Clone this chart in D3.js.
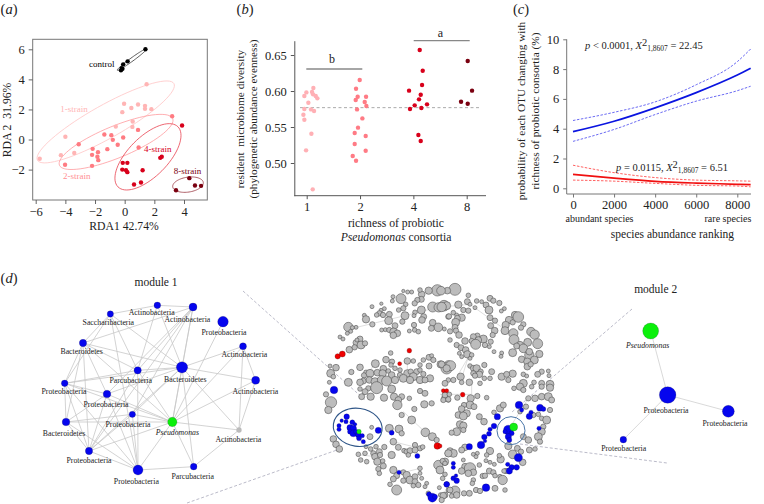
<!DOCTYPE html>
<html><head><meta charset="utf-8">
<script src="https://cdn.jsdelivr.net/npm/d3@7/dist/d3.min.js"></script>
<style>html,body{margin:0;padding:0;background:#fff}svg{display:block}text{font-family:"Liberation Serif",serif;fill:#222}</style>
</head><body><svg id="c" width="764" height="504"></svg>
<script>
// ---- panel a: RDA scores [RDA1, RDA2]
const rdaControl=[[1.4,6.0],[0.2,5.2],[-0.1,5.0],[-0.2,4.75],[-0.25,4.6],[-0.15,4.7]];
const rda1=[[1.48,3.68],[-0.04,2.38],[0.45,2.1],[0.9,2.33],[1.37,2.24],[1.37,2.04],[1.8,2.02],[-0.16,1.82],[0.54,1.2],[0.52,0.84],[-0.6,0.86],[-4.0,0.18],[-4.3,-1.04],[-3.4,-0.9],[-5.73,-1.28]];
const rda2=[[3.2,1.55],[0.9,0.64],[-0.1,0.13],[-1.37,0.33],[-0.9,0.29],[-0.8,-0.02],[-3.1,-0.31],[-2.16,-0.62],[-2.2,-1.02],[-1.8,-0.84],[-1.84,-1.15],[-1.78,-1.37],[-1.17,-0.64],[-0.47,-0.35],[-2.2,-1.75],[-4.02,-1.68],[0.94,-0.53]];
const rda4=[[3.87,0.93],[2.5,-1.15],[2.4,-1.22],[-0.13,-1.55],[0.18,-1.55],[-0.16,-2.0],[0.09,-2.04],[0.18,-2.17],[1.21,-2.04],[1.1,-2.86],[0.63,-2.99]];
const rda8=[[4.36,-2.57],[3.46,-3.37],[4.74,-3.06],[5.15,-3.08]];
// ellipses: centre x,y, major half-vector, minor half-vector (RDA units)
const rdaEllipses=[
 {k:"c",e:[0.49,5.32,0.99,0.71,0.07,-0.09]},
 {k:"1",e:[-1.28,1.17,4.6,2.55,0.55,-0.96]},
 {k:"2",e:[-0.58,-0.16,3.82,1.55,0.4,-0.98]},
 {k:"4",e:[1.57,-1.15,2.02,2.0,0.94,-0.93]},
 {k:"8",e:[4.27,-3.0,1.03,0.15,0.07,-0.49]}];
const rdaTicksX=[-6,-4,-2,0,2,4], rdaTicksY=[-2,0,2,4,6];
// ---- panel b: [category offset, evenness]
const bCats=["1","2","4","8"];
const evenness1=[[.125,.6042],[-.006,.5981],[.1,.5986],[.119,.5954],[.169,.5931],[.2,.5898],[-.044,.5931],[.031,.5838],[.081,.5745],[.138,.5722],[-.044,.575],[-.062,.5671],[-.044,.5602],[.088,.5407],[-.012,.5176],[.113,.4634]];
const evenness2=[[-.006,.6153],[-.075,.6032],[-.044,.5921],[-.081,.5875],[.113,.5921],[.088,.5847],[.119,.5792],[-.056,.5745],[.044,.562],[-.038,.5491],[-.1,.5417],[.106,.5375],[-.1,.5264],[.106,.5171],[-.137,.5097],[-.075,.5032]];
const evenness4=[[.119,.6569],[.175,.6282],[.163,.6083],[-.081,.6005],[.138,.5949],[.106,.5884],[.256,.5815],[.025,.5801],[-.063,.575],[.15,.5764],[.094,.5389],[.138,.5306]];
const evenness8=[[.019,.6417],[.1,.6005],[-.106,.5852],[.019,.5824]];
const bTicks=[.5,.55,.6,.65];
const bMean=0.5769;
// ---- panel c
const cX=[0,2000,4000,6000,8000,8650];
const blueMean=[3.8,4.5,5.4,6.42,7.6,8.05], blueHi=[4.55,5.1,5.8,6.95,8.5,9.35], blueLo=[3.15,3.95,4.95,5.85,6.55,6.85];
const redMean=[.93,.68,.47,.35,.27,.24], redHi=[1.55,1.05,.72,.55,.5,.48], redLo=[.55,.48,.33,.2,.15,.1];
const cTicksX=[0,2000,4000,6000,8000], cTicksY=[0,2,4,6,8,10];
// ---- panel d: module 1 [x,y,r,label,labelx,labely]
const module1=[[472,166,10,"Actinobacteria",455,187],[579,171,12,"Actinobacteria",562,208],[331,192,9.5,"Saccharibacteria",325,218],[669,215,16,"Proteobacteria",672,247],[249,279,11,"Bacteroidetes",245,304],[729,289,10.5,"Actinobacteria",733,314],[413,361,11,"Parcubacteria",392,390],[546,352,17,"Bacteroidetes",556,387],[767,391,12,"Actinobacteria",766,424],[194,400,10,"Proteobacteria",192,425],[321,432,11.5,"Proteobacteria",318,463],[397,493,9.5,"Proteobacteria",384,524],[198,516,11.5,"Bacteroidetes",192,550],[517,516,14,"Pseudomonas",532,546],[717,540,8,"Actinobacteria",715,567],[267,603,11,"Proteobacteria",267,632],[414,660,15,"Proteobacteria",409,693],[581,650,10,"Parcubacteria",578,679]];
const module1Links=[[0,1],[0,2],[0,6],[0,7],[1,4],[1,6],[1,7],[1,13],[1,10],[2,4],[2,6],[2,7],[2,9],[3,13],[4,9],[4,12],[4,6],[4,10],[4,7],[4,13],[4,15],[5,7],[5,8],[5,13],[5,14],[6,7],[6,9],[6,13],[6,16],[6,15],[7,8],[7,9],[7,10],[7,11],[7,13],[7,14],[7,15],[7,17],[8,13],[8,14],[9,10],[9,12],[9,13],[9,15],[9,16],[10,12],[10,13],[10,16],[10,15],[11,12],[11,16],[11,13],[11,15],[12,13],[12,15],[12,16],[13,14],[13,16],[13,17],[13,15],[14,17],[16,17],[15,16],[1,15],[1,11],[2,16]];
const module2=[[272,183,24,"Pseudomonas",263,225],[323,375,25,"Proteobacteria",318,421],[505,424,18,"Proteobacteria",495,461],[190,509,10,"Proteobacteria",191,535]];
const module2Links=[[0,1],[1,2],[1,3]];
// whole network, one list per quadrant of the layout
const netNW=[[352,76,15],[326,77,9],[305,88,8],[300,75,5],[275,81,4],[263,81,4],[250,78,3],[304,103,7],[292,105,6],[284,115,6],[243,101,13],[219,95,4],[217,108,4],[257,118,5],[250,130,6],[236,135,5],[304,135,10],[338,126,13],[356,127,12],[372,122,14],[385,155,6],[184,116,3],[156,125,4],[193,131,4],[183,136,4],[133,151,4],[178,145,6],[170,150,5],[189,150,6],[138,163,9],[208,148,7],[206,167,10],[255,152,10],[285,142,5],[282,152,4],[247,170,6],[311,155,7],[306,165,8],[225,182,7],[157,178,6],[85,186,12],[108,187,4],[97,188,4],[338,173,8],[355,187,11],[334,190,7],[373,192,4],[282,180,6],[284,195,5],[295,200,5],[268,198,4],[185,195,4],[196,194,4],[208,195,6],[221,201,10],[232,205,8],[220,211,8],[92,199,4],[82,205,4],[60,216,4],[69,222,4],[120,222,7],[108,233,7],[123,240,10],[135,235,6],[111,225,4],[88,254,8],[104,247,6],[212,264,5],[198,284,8],[216,290,6],[213,300,5],[262,288,8],[280,288,5],[300,300,5],[327,277,7],[335,272,4],[340,285,6],[310,285,5],[327,303,7],[362,298,9],[385,300,11],[380,310,15],[166,296,10],[120,307,8],[94,321,6],[48,308,8],[30,303,4],[32,325,10],[40,335,5],[28,352,4],[138,322,5],[132,331,6],[150,325,10],[172,323,8],[190,311,8],[188,325,9],[205,318,5],[225,310,5],[240,315,5],[262,325,9],[272,320,6],[290,320,7],[300,315,5],[215,330,8],[240,330,6],[280,335,10],[310,327,6],[330,340,9],[130,348,7],[148,345,8],[165,350,10],[185,345,11],[200,348,13],[225,345,9],[250,340,10],[270,345,9],[300,345,9],[315,345,7],[85,352,10],[120,352,8],[385,345,5]];
const netNE=[[45,73,16],[22,77,8],[3,77,11],[85,91,5],[150,100,7],[160,107,6],[178,114,6],[110,108,5],[125,110,4],[82,110,7],[90,118,4],[138,120,7],[147,135,10],[105,128,4],[55,119,9],[20,122,10],[5,126,12],[193,131,4],[184,138,4],[70,135,6],[85,137,6],[40,143,5],[50,150,4],[27,154,6],[65,158,9],[52,160,7],[47,172,10],[150,158,7],[165,167,6],[225,150,9],[235,156,14],[207,165,9],[197,180,9],[218,172,6],[250,178,6],[243,188,6],[152,182,7],[164,197,8],[158,210,6],[45,187,7],[30,199,6],[48,197,6],[195,197,10],[273,200,11],[284,209,12],[57,210,8],[220,205,12],[222,224,13],[112,212,6],[100,215,7],[130,222,10],[115,225,8],[30,225,5],[152,230,6],[95,228,6],[107,238,13],[135,240,6],[148,245,4],[75,228,8],[50,240,6],[63,248,7],[77,255,8],[240,240,9],[263,232,10],[293,236,13],[250,250,11],[230,243,7],[268,270,12],[298,267,9],[218,263,10],[283,285,10],[245,283,8],[262,290,9],[268,260,8],[262,305,8],[272,298,6],[162,260,4],[185,264,4],[183,274,4],[58,265,4],[65,275,4],[82,268,9],[95,270,5],[90,280,4],[5,298,8],[32,302,13],[20,310,9],[90,303,5],[133,300,6],[100,310,7],[110,310,9],[122,320,6],[100,325,6],[118,328,8],[105,332,6],[155,320,7],[133,340,5],[150,340,5],[62,335,9],[185,335,9],[218,326,9],[200,328,7],[250,328,5],[260,333,4],[305,320,6],[293,328,7],[325,318,4],[327,332,4],[40,345,6],[15,355,7],[65,352,5],[88,352,8],[120,355,5],[205,345,6],[250,355,10],[282,352,5],[305,355,7],[330,358,10]];
const netSW=[[33,52,15],[18,28,6],[25,75,9],[120,12,5],[145,10,6],[170,8,16],[135,20,7],[125,35,7],[152,35,9],[192,38,9],[215,12,10],[222,35,9],[245,35,7],[235,45,8],[232,60,12],[268,40,5],[283,72,6],[245,90,6],[275,105,10],[313,58,9],[335,55,6],[300,18,6],[315,25,7],[372,38,5],[385,45,5],[316,142,11],[337,155,10],[350,165,6],[208,130,10],[237,132,10],[245,145,6],[150,155,7],[155,127,4],[40,162,8],[48,178,8],[58,192,8],[220,170,8],[235,187,7],[193,186,6],[168,185,5],[152,192,5],[178,200,7],[160,205,6],[165,215,8],[180,210,6],[115,208,5],[135,205,5],[138,185,4],[122,225,5],[140,230,5],[172,230,9],[188,228,5],[190,243,7],[175,252,6],[178,265,5],[215,210,9],[220,255,9],[230,272,7],[250,262,6],[260,270,9],[270,285,10],[285,275,7],[285,290,7],[295,300,6],[280,302,5],[250,287,6],[220,282,7],[210,298,5],[230,315,13],[300,250,5],[300,265,4],[305,280,4],[320,295,4],[315,305,4],[355,240,12],[360,255,10],[375,230,9],[385,205,8],[358,308,4],[325,325,5],[375,330,7],[385,315,5],[362,330,5],[252,197,5],[260,200,6],[270,197,7],[285,180,6],[300,190,6],[285,195,7],[308,186,5],[265,210,5]];
const netSE=[[240,5,9],[222,10,5],[250,15,6],[275,5,5],[330,8,9],[305,5,6],[15,30,7],[28,28,5],[10,45,6],[25,43,6],[52,38,6],[92,40,9],[112,33,6],[140,38,5],[90,60,10],[72,60,6],[102,65,7],[65,72,8],[80,85,9],[55,90,8],[70,93,10],[118,95,7],[132,110,8],[60,118,9],[70,122,9],[50,140,10],[35,143,6],[70,135,6],[180,70,9],[190,60,7],[162,82,5],[265,40,6],[285,40,8],[305,35,8],[325,35,10],[335,45,7],[258,65,6],[240,80,5],[280,90,6],[295,88,5],[305,100,5],[320,105,10],[330,75,6],[310,125,6],[305,140,9],[295,155,10],[300,170,6],[250,155,7],[265,165,8],[205,183,9],[232,190,7],[268,195,7],[285,192,5],[243,200,6],[218,208,11],[150,198,9],[140,210,5],[75,187,8],[65,195,7],[30,198,8],[40,205,10],[25,205,9],[112,205,4],[100,208,4],[108,215,4],[138,227,4],[150,232,4],[163,238,4],[8,228,6],[15,235,5],[182,223,9],[178,212,5],[248,232,8],[70,225,4],[75,245,8],[90,250,15],[100,262,8],[65,258,8],[85,265,8],[118,240,5],[148,258,7],[160,262,6],[165,272,5],[198,258,6],[192,258,5],[180,275,5],[188,285,12],[128,273,6],[135,272,6],[100,285,5],[97,295,5],[15,268,5],[8,280,5],[45,318,13],[30,315,7],[50,330,8],[35,333,5],[72,325,6],[88,325,7],[10,332,8],[5,345,6],[108,315,6],[120,318,6],[165,310,7],[195,315,5]];
const netBlueSW=[[42,15,10],[80,95,7],[65,107,4],[78,110,5],[57,122,5],[57,133,5],[97,112,6],[105,118,4],[90,128,8],[100,130,8],[90,140,6],[100,145,9],[108,140,6],[115,150,7],[127,152,5],[117,160,6],[130,170,5],[175,136,8],[215,143,6],[292,213,6],[237,262,5],[327,328,6],[337,338,12],[345,335,6],[380,298,7]];
const netBlueSE=[[237,60,10],[245,75,5],[300,68,9],[310,72,6],[273,82,5],[268,94,8],[172,95,8],[162,123,7],[150,133,5],[147,146,6],[133,156,7],[123,180,10],[135,168,4],[88,185,8],[205,135,13],[195,140,5],[215,145,6],[205,155,8],[208,165,6],[297,130,5],[235,218,11],[203,238,5],[215,247,7],[230,247,7],[208,258,8],[40,235,5],[40,247,5],[40,280,6],[50,287,7],[48,272,4],[20,298,7],[138,308,10]];
const netRedNW=[[53,274,7],[67,267,8],[268,257,6],[239,296,5]];
const netRedSW=[[352,183,9]];
const netRedSE=[[68,29,6],[10,17,5],[20,17,5],[0,183,5]];
const netGreenSW=[[117,140,6]], netGreenSE=[[221,126,11]];
const netLinksNW=[[110,187,255,152],[255,152,340,130],[166,296,120,352],[262,288,262,330],[340,285,380,300]];
const netLinksNE=[[90,118,190,190],[95,260,45,345],[90,260,65,340],[5,126,90,118]];
const netLinksSW=[[250,80,316,142],[120,210,170,215],[220,170,300,190],[240,265,300,250]];
const netLinksSE=[[0,28,95,28],[95,0,95,28],[205,135,265,40]];

const svg=d3.select("#c");
const SER='"Liberation Serif",serif';
function txt(g,x,y,s,o={}){const t=g.append("text").attr("x",x).attr("y",y).attr("dy",".35em").attr("text-anchor",o.a||"middle").attr("font-size",o.fs||12).text(s);
 if(o.c)t.style("fill",o.c); if(o.it)t.attr("font-style","italic"); if(o.rot)t.attr("transform",`rotate(-90 ${x} ${y})`); return t;}
function panelLabel(x,y,l){const t=svg.append("text").attr("x",x).attr("y",y).attr("dy",".35em").attr("font-size",14.5).attr("text-anchor","middle");
 t.append("tspan").text("(");t.append("tspan").attr("font-style","italic").text(l);t.append("tspan").text(")");}
panelLabel(9,9,"a");panelLabel(245,9,"b");panelLabel(521,9,"c");panelLabel(9,278,"d");
function styleAxis(g,fs){g.selectAll("path,line").attr("stroke","#555").attr("stroke-width",.9);g.selectAll("text").attr("font-size",fs).attr("font-family",SER).style("fill","#222");g.attr("font-family",SER);}
const minus=d=>d3.format("d")(d).replace("-","\u2212");

// ---- a
{const x=d3.scaleLinear().domain([-6,4]).range([35.7,184]);
 const y=d3.scaleLinear().domain([-2,6]).range([169.6,49.3]);
 const g=svg.append("g");
 g.append("rect").attr("x",32.7).attr("y",39.3).attr("width",174.6).attr("height",160.7).attr("fill","none").attr("stroke","#777").attr("stroke-width",1);
 g.append("g").attr("transform","translate(0,200)").call(d3.axisBottom(x).tickValues(rdaTicksX).tickFormat(minus).tickSize(4).tickPadding(3)).call(a=>{a.select("path").remove();styleAxis(a,12.5)});
 g.append("g").attr("transform","translate(32.7,0)").call(d3.axisLeft(y).tickValues(rdaTicksY).tickFormat(minus).tickSize(4).tickPadding(4)).call(a=>{a.select("path").remove();styleAxis(a,12.5)});
 txt(g,124,226,"RDA1 42.74%",{fs:11.7});
 txt(g,6.5,120,"RDA 2  31.96%",{fs:11.7,rot:1}).style("white-space","pre");
 const col={c:"#000","1":"#ffb5b5","2":"#ff7b82","4":"#d8001b","8":"#7a0010"};
 const ecol={c:"#333","1":"#ffc4c4","2":"#ff9a9e","4":"#e8414f","8":"#9a3a44"};
 const line=d3.line().x(d=>x(d[0])).y(d=>y(d[1])).curve(d3.curveLinearClosed);
 rdaEllipses.forEach(({k,e})=>{const pts=d3.range(0,72).map(i=>{const a=i/72*2*Math.PI,c=Math.cos(a),s=Math.sin(a);return [e[0]+e[2]*c+e[4]*s,e[1]+e[3]*c+e[5]*s];});
  g.append("path").attr("d",line(pts)).attr("fill","none").attr("stroke",ecol[k]).attr("stroke-width",.8);});
 [[rda1,"1"],[rda2,"2"],[rda4,"4"],[rda8,"8"],[rdaControl,"c"]].forEach(([arr,k])=>{g.append("g").selectAll("circle").data(arr).join("circle").attr("cx",d=>x(d[0])).attr("cy",d=>y(d[1])).attr("r",2.2).attr("fill",col[k]);});
 txt(g,101.7,64,"control",{fs:9,c:"#000"});txt(g,74,109,"1-strain",{fs:9,c:"#ffb5b5"});txt(g,76.7,175.5,"2-strain",{fs:9,c:"#ff8f93"});txt(g,157.7,149,"4-strain",{fs:9,c:"#d8001b"});txt(g,187.5,171,"8-strain",{fs:9,c:"#7a0010"});
}
// ---- b
{const xi=d3.scaleLinear().domain([0,3]).range([306.7,466.7]);
 const xb=d3.scalePoint().domain(bCats).range([306.7,466.7]);
 const y=d3.scaleLinear().domain([.4546,.6699]).range([195.7,40.7]);
 const g=svg.append("g");
 g.append("g").attr("transform","translate(0,195.7)").call(d3.axisBottom(xb).tickSize(3.5).tickPadding(3).tickSizeOuter(0)).call(a=>{a.select("path").attr("d","M294.3,0H486");styleAxis(a,12.5);a.selectAll("path,line").attr("stroke-width",1)});
 g.append("g").attr("transform","translate(294.3,0)").call(d3.axisLeft(y).tickValues(bTicks).tickFormat(d3.format(".2f")).tickSize(3.5).tickPadding(4).tickSizeOuter(0)).call(a=>{styleAxis(a,12.5);a.selectAll("path,line").attr("stroke-width",1)});
 g.append("line").attr("x1",300).attr("x2",480).attr("y1",y(bMean)).attr("y2",y(bMean)).attr("stroke","#aaa").attr("stroke-width",1).attr("stroke-dasharray","3 2.5");
 [[evenness1,0,"#ffb0b5"],[evenness2,1,"#ff7b85"],[evenness4,2,"#d8001b"],[evenness8,3,"#7a0010"]].forEach(([arr,i,c])=>{g.append("g").selectAll("circle").data(arr).join("circle").attr("cx",d=>xi(i+d[0])).attr("cy",d=>y(d[1])).attr("r",2.2).attr("fill",c);});
 g.append("line").attr("x1",306.3).attr("x2",362.3).attr("y1",69).attr("y2",69).attr("stroke","#888").attr("stroke-width",1.3);
 g.append("line").attr("x1",413.7).attr("x2",469.7).attr("y1",40.7).attr("y2",40.7).attr("stroke","#888").attr("stroke-width",1.3);
 txt(g,332,58.5,"b",{fs:12});txt(g,440.5,33,"a",{fs:12});
 txt(g,240,119,"resident  microbiome diversity",{fs:11.3,rot:1}).style("white-space","pre");
 txt(g,253.5,119,"(phylogenetic abundance evenness)",{fs:11.2,rot:1});
 txt(g,396,222.5,"richness of probiotic",{fs:11.7});
 const t=g.append("text").attr("x",396).attr("y",237).attr("dy",".35em").attr("text-anchor","middle").attr("font-size",11.7);
 t.append("tspan").attr("font-style","italic").text("Pseudomonas");t.append("tspan").text(" consortia");
}
// ---- c
{const x=d3.scaleLinear().domain([0,8000]).range([573,737.3]);
 const y=d3.scaleLinear().domain([0,10]).range([188.3,39.3]);
 const g=svg.append("g");
 g.append("g").attr("transform","translate(0,194)").call(d3.axisBottom(x).tickValues(cTicksX).tickSize(3.5).tickPadding(3).tickFormat(d3.format("d")).tickSizeOuter(0)).call(a=>{a.select("path").attr("d","M566.7,0H751");styleAxis(a,12.5);a.selectAll("path,line").attr("stroke-width",1).attr("stroke","#777")});
 g.append("g").attr("transform","translate(566.7,0)").call(d3.axisLeft(y).tickValues(cTicksY).tickSize(3.5).tickPadding(4).tickSizeOuter(0)).call(a=>{a.select("path").attr("d","M0,39.3V194");styleAxis(a,12.5);a.selectAll("path,line").attr("stroke-width",1).attr("stroke","#777")});
 const line=d3.line().x((d,i)=>x(cX[i])).y(d=>y(d)).curve(d3.curveMonotoneX);
 [[blueMean,"#0a14e0",1.7,null],[blueHi,"#5a5af0",.9,"2.5 1.5"],[blueLo,"#5a5af0",.9,"2.5 1.5"],[redMean,"#f01010",1.7,null],[redHi,"#ff5050",.9,"2.5 1.5"],[redLo,"#ff5050",.9,"2.5 1.5"]].forEach(([s,c,w,da])=>{
  g.append("path").attr("d",line(s)).attr("fill","none").attr("stroke",c).attr("stroke-width",w).attr("stroke-dasharray",da);});
 function stat(xp,yp,lead,val){const t=g.append("text").attr("x",xp).attr("y",yp).attr("dy",".35em").attr("font-size",10.5);
  t.append("tspan").attr("font-style","italic").text("p");t.append("tspan").text(lead);t.append("tspan").attr("font-style","italic").text("X");
  t.append("tspan").attr("dy",-3).text("2");t.append("tspan").attr("dy",5).attr("font-size",7.5).text("1,8607");t.append("tspan").attr("dy",-2).text(" = "+val);}
 stat(585,45.5," < 0.0001, ","22.45");stat(616,167.5," = 0.0115, ","6.51");
 txt(g,599.5,218,"abundant species",{fs:10});txt(g,728,218,"rare species",{fs:10});
 txt(g,672.5,234,"species abundance ranking",{fs:11.5});
 txt(g,521.5,111,"probability of each OTU changing with",{fs:11.3,rot:1});
 txt(g,535,111,"richness of probiotic consortia (%)",{fs:11.3,rot:1});
}
// ---- d
const dashes=[[243,291,365,400],[187,503,337,450],[632,309,512,412],[520,444,667,463]];
svg.append("g").selectAll("line").data(dashes).join("line").attr("x1",d=>d[0]).attr("y1",d=>d[1]).attr("x2",d=>d[2]).attr("y2",d=>d[3]).attr("stroke","#aab").attr("stroke-width",.8).attr("stroke-dasharray","3 2");
function network(nodes,links,ox,oy,greenIdx,grayIdx,lw){
 const x=d3.scaleLinear().domain([0,300]).range([ox,ox+100]), y=d3.scaleLinear().domain([0,300]).range([oy,oy+100]), k=d3.scaleLinear().domain([0,3]).range([0,1]);
 const g=svg.append("g");
 g.append("g").selectAll("line").data(links).join("line").attr("x1",d=>x(nodes[d[0]][0])).attr("y1",d=>y(nodes[d[0]][1])).attr("x2",d=>x(nodes[d[1]][0])).attr("y2",d=>y(nodes[d[1]][1])).attr("stroke","#c8c8c8").attr("stroke-width",lw);
 g.append("g").selectAll("circle").data(nodes).join("circle").attr("cx",d=>x(d[0])).attr("cy",d=>y(d[1])).attr("r",d=>k(d[2])).attr("fill",(d,i)=>i===greenIdx?"#0bf00b":i===grayIdx?"#bbb":"#0505ee").attr("stroke",(d,i)=>i===grayIdx?"none":"#223").attr("stroke-width",.2);
 nodes.forEach((d,i)=>txt(g,x(d[4]),y(d[5]),d[3],{fs:7.8,it:d[3]==="Pseudomonas",c:"#222"}));
}
network(module1,module1Links,0,250,13,14,.8);
network(module2,module2Links,560,270,0,-1,.7);
txt(svg,156,282,"module 1",{fs:11.5});txt(svg,655.7,289,"module 2",{fs:11.5});
{const tiles=[{o:[320,265],gray:netNW,red:netRedNW,links:netLinksNW,blue:[],green:[]},
 {o:[440,265],gray:netNE,red:[],links:netLinksNE,blue:[],green:[]},
 {o:[320,385],gray:netSW,red:netRedSW,links:netLinksSW,blue:netBlueSW,green:netGreenSW},
 {o:[440,385],gray:netSE,red:netRedSE,links:netLinksSE,blue:netBlueSE,green:netGreenSE}];
 const g=svg.append("g"), lay=[g.append("g"),g.append("g"),g.append("g"),g.append("g"),g.append("g")];
 const k=d3.scaleLinear().domain([0,3]).range([0,1]);
 const dot=(l,arr,o,fill,stroke,sw,grow)=>l.append("g").selectAll("circle").data(arr).join("circle").attr("cx",d=>o[0]+k(d[0])).attr("cy",d=>o[1]+k(d[1])).attr("r",d=>k(d[2]+grow)).attr("fill",fill).attr("stroke",stroke).attr("stroke-width",sw);
 tiles.forEach(t=>{
  lay[0].append("g").selectAll("line").data(t.links).join("line").attr("x1",d=>t.o[0]+k(d[0])).attr("y1",d=>t.o[1]+k(d[1])).attr("x2",d=>t.o[0]+k(d[2])).attr("y2",d=>t.o[1]+k(d[3])).attr("stroke","#d0d0d0").attr("stroke-width",.7);
  dot(lay[1],t.gray,t.o,"#bcbcbc","#4a4a4a",.55,2);
  dot(lay[2],t.red,t.o,"#f00000","#500",.3,1);
  dot(lay[3],t.blue,t.o,"#0505ee","#113",.2,1.5);
  dot(lay[4],t.green,t.o,"#14ef14","#141",.2,1);
 });
 g.append("ellipse").attr("cx",357.7).attr("cy",427.3).attr("rx",24.5).attr("ry",19).attr("fill","none").attr("stroke","#2f5688").attr("stroke-width",1.1).attr("transform","rotate(8 357.7 427.3)");
 g.append("circle").attr("cx",511).attr("cy",430.7).attr("r",14).attr("fill","none").attr("stroke","#4a76a8").attr("stroke-width",1);
}
</script></body></html>
